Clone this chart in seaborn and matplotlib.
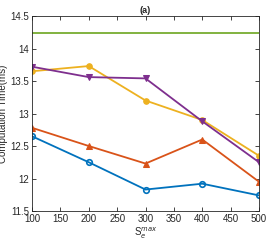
import matplotlib
matplotlib.use("Agg")
import matplotlib.pyplot as plt
import pandas as pd
import seaborn as sns

S_MAX = [100, 200, 300, 400, 500]
BLUE = [12.65, 12.25, 11.83, 11.92, 11.74]
ORANGE = [12.78, 12.50, 12.23, 12.60, 11.95]
YELLOW = [13.65, 13.73, 13.20, 12.90, 12.35]
PURPLE = [13.72, 13.56, 13.54, 12.88, 12.25]
GREEN = [14.24, 14.24, 14.24, 14.24, 14.24]

X_TICKS = [100, 150, 200, 250, 300, 350, 400, 450, 500]
Y_TICKS = [11.5, 12, 12.5, 13, 13.5, 14, 14.5]
Y_LABELS = ["11.5", "12", "12.5", "13", "13.5", "14", "14.5"]

SERIES = ["blue", "orange", "yellow", "purple", "green"]
COLORS = ["#0072BD", "#D95319", "#EDB120", "#7E2F8E", "#77AC30"]
MARKERS = ["o", "^", "o", "v", ""]

sns.set_style("ticks")
plt.rcParams["font.family"] = ["Liberation Sans", "DejaVu Sans"]

df = pd.DataFrame({
    "x": S_MAX * 5,
    "y": BLUE + ORANGE + YELLOW + PURPLE + GREEN,
    "s": [s for s in SERIES for _ in S_MAX],
})

fig = plt.figure(figsize=(2.66, 2.49), dpi=100)
ax = fig.add_axes([32 / 266, 1 - 211 / 249, 227 / 266, 195 / 249])

for name, col, mk in zip(SERIES, COLORS, MARKERS):
    sub = df[df["s"] == name]
    kw = dict(marker=mk, markersize=4) if mk else {}
    if name == "blue":
        kw.update(markerfacecolor="none", markeredgewidth=1.2)
    sns.lineplot(data=sub, x="x", y="y", color=col, linewidth=1.3,
                 ax=ax, legend=False, markeredgecolor=col, **kw)

ax.set_xticks(X_TICKS)
ax.set_yticks(Y_TICKS, Y_LABELS)
ax.set_xlim(100, 500)
ax.set_ylim(11.5, 14.5)
ax.tick_params(direction="in", top=True, right=True, labelsize=7,
               length=3, width=0.6, pad=2)
for sp in ax.spines.values():
    sp.set_linewidth(0.6)
ax.set_xlabel(r"S$_e^{max}$", fontsize=7, labelpad=1)
ax.set_ylabel("Computation Time(ms)", fontsize=7, labelpad=2)
ax.set_title("(a)", fontsize=6.5, pad=2, fontweight="bold")

fig.savefig("out.png", dpi=100)
